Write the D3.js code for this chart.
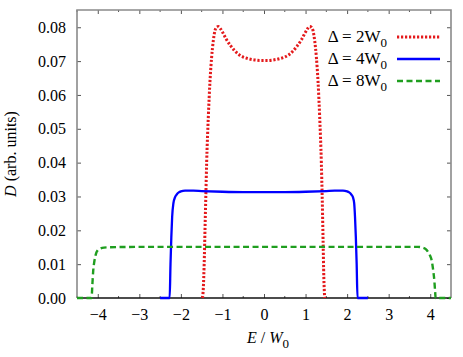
<!DOCTYPE html>
<html>
<head>
<meta charset="utf-8">
<script src="https://cdn.jsdelivr.net/npm/d3@7"></script>
<style>
  body { margin: 0; background: #fff; }
</style>
</head>
<body>
<div id="chart"></div>
<script>
var margin = {top: 10, right: 12, bottom: 59, left: 77},
    width = 463 - margin.left - margin.right,
    height = 357 - margin.top - margin.bottom;

// series
var labels = ["2", "4", "8"];
var colors = ["#e41a1c", "#0000ff", "#1f9e1f"];

var e2 = [-1.48, -1.46, -1.44, -1.42, -1.40, -1.38, -1.34, -1.30, -1.26, -1.22, -1.18, -1.14, -1.10, -1.05, -1.00, -0.90, -0.80, -0.70, -0.60, -0.50, -0.40, -0.30, -0.20, -0.10, 0.00,
          0.10, 0.20, 0.30, 0.40, 0.50, 0.60, 0.70, 0.80, 0.90, 1.00, 1.05, 1.10, 1.14, 1.18, 1.22, 1.26, 1.30, 1.34, 1.38, 1.40, 1.42, 1.44, 1.46];
var d2 = [0, 0.003, 0.010, 0.020, 0.030, 0.040, 0.0535, 0.064, 0.0712, 0.076, 0.079, 0.0800, 0.0802, 0.0796, 0.0786, 0.0763, 0.0745, 0.0730, 0.0719, 0.0712, 0.0708, 0.0705, 0.0703, 0.0702, 0.0702,
          0.0702, 0.0703, 0.0705, 0.0708, 0.0712, 0.0719, 0.0730, 0.0745, 0.0763, 0.0786, 0.0796, 0.0802, 0.0800, 0.079, 0.076, 0.0712, 0.064, 0.0535, 0.040, 0.030, 0.018, 0.006, 0];

var e4 = [-2.50, -2.27, -2.25, -2.23, -2.21, -2.18, -2.14, -2.10, -2.05, -2.00, -1.90, -1.70, -1.50, -1.00, -0.50, 0.00,
          0.50, 1.00, 1.50, 1.70, 1.90, 2.00, 2.05, 2.10, 2.14, 2.17, 2.19, 2.21, 2.23, 2.25, 2.50];
var d4 = [0, 0, 0.010, 0.018, 0.024, 0.028, 0.0298, 0.0306, 0.0312, 0.0315, 0.0317, 0.0317, 0.0316, 0.0314, 0.0313, 0.0313,
          0.0313, 0.0314, 0.0316, 0.0317, 0.0317, 0.0315, 0.0312, 0.0306, 0.0298, 0.028, 0.024, 0.018, 0.010, 0, 0];

var e8 = [-4.50, -4.15, -4.13, -4.11, -4.08, -4.04, -4.00, -3.94, -3.85, -3.70, -3.00, -2.00, -1.00, 0.00,
          1.00, 2.00, 3.00, 3.70, 3.82, 3.92, 3.99, 4.04, 4.07, 4.10, 4.12, 4.13, 4.50];
var d8 = [0, 0, 0.004, 0.008, 0.011, 0.0132, 0.0141, 0.0146, 0.0149, 0.0150, 0.0151, 0.0151, 0.0151, 0.0151,
          0.0151, 0.0151, 0.0151, 0.0151, 0.0149, 0.0141, 0.0127, 0.0108, 0.0083, 0.0050, 0.0015, 0, 0];

var xTicks = [-4, -3, -2, -1, 0, 1, 2, 3, 4];
var xMinor = [-4.5, -3.5, -2.5, -1.5, -0.5, 0.5, 1.5, 2.5, 3.5];
var yTicks = [0, 0.01, 0.02, 0.03, 0.04, 0.05, 0.06, 0.07, 0.08];

var series = [
  {E: e2, D: d2, dash: "2.2,1.8", w: 3},
  {E: e4, D: d4, dash: null, w: 2.3},
  {E: e8, D: d8, dash: "6,3.5", w: 2.4}
];

var svg = d3.select("#chart").append("svg")
    .attr("width", 463)
    .attr("height", 357)
    .attr("font-family", "Liberation Serif")
  .append("g")
    .attr("transform", "translate(" + margin.left + "," + margin.top + ")");

var x = d3.scaleLinear().domain([-4.5, 4.5]).range([0, width]);
var y = d3.scaleLinear().domain([0, 0.0851]).range([height, 0]);

// minor x ticks, top and bottom
svg.append("g").selectAll("line").data(xMinor).enter().append("line")
    .attr("x1", d => x(d)).attr("x2", d => x(d))
    .attr("y1", height).attr("y2", height - 2)
    .attr("stroke", "#555");
svg.append("g").selectAll("line").data(xMinor).enter().append("line")
    .attr("x1", d => x(d)).attr("x2", d => x(d))
    .attr("y1", 0).attr("y2", 2)
    .attr("stroke", "#555");

var xAxis = svg.append("g")
    .attr("transform", "translate(0," + height + ")")
    .call(d3.axisBottom(x).tickValues(xTicks).tickSizeInner(-4).tickSizeOuter(0).tickPadding(11));
var xTop = svg.append("g")
    .call(d3.axisTop(x).tickValues(xTicks).tickSizeInner(-4).tickSizeOuter(0).tickFormat(""));
var yAxis = svg.append("g")
    .call(d3.axisLeft(y).tickValues(yTicks).tickSizeInner(-4).tickSizeOuter(0).tickPadding(11).tickFormat(d3.format(".2f")));
var yRight = svg.append("g")
    .attr("transform", "translate(" + width + ",0)")
    .call(d3.axisRight(y).tickValues(yTicks).tickSizeInner(-4).tickSizeOuter(0).tickFormat(""));

[xAxis, xTop, yAxis, yRight].forEach(function(a) {
  a.attr("font-family", "Liberation Serif").attr("font-size", 16);
  a.select(".domain").remove();
  a.selectAll(".tick line").attr("stroke", "#555");
  a.selectAll("text").attr("fill", "#000");
});

// frame
svg.append("path")
    .attr("d", "M0," + height + "V0H" + width + "V" + height)
    .attr("fill", "none")
    .attr("stroke", "#8a8a8a")
    .attr("stroke-width", 1.6);

var line = d3.line()
    .curve(d3.curveMonotoneX)
    .x(d => x(d[0]))
    .y(d => y(d[1]));

svg.append("line")
    .attr("x1", 0).attr("x2", width)
    .attr("y1", height).attr("y2", height)
    .attr("stroke", "#111")
    .attr("stroke-width", 1.4);

series.forEach(function(s, i) {
  svg.append("path")
      .datum(d3.zip(s.E, s.D))
      .attr("fill", "none")
      .attr("stroke", colors[i])
      .attr("stroke-width", s.w)
      .attr("stroke-dasharray", s.dash)
      .attr("d", line);
});

// legend
var leg = svg.append("g");
series.forEach(function(s, i) {
  var ly = 27 + i * 22;
  var t = leg.append("text")
      .attr("x", 310)
      .attr("y", ly + 5)
      .attr("text-anchor", "end")
      .attr("font-size", 17);
  t.append("tspan").text("\u0394 = " + labels[i] + "W");
  t.append("tspan").attr("dy", 5).attr("font-size", 13).text("0");
  leg.append("line")
      .attr("x1", 320).attr("x2", 363)
      .attr("y1", ly).attr("y2", ly)
      .attr("stroke", colors[i])
      .attr("stroke-width", s.w)
      .attr("stroke-dasharray", s.dash);
});

// axis titles
var yl = svg.append("text")
    .attr("transform", "translate(" + (-61) + "," + (height / 2) + ") rotate(-90)")
    .attr("text-anchor", "middle")
    .attr("font-size", 16);
yl.append("tspan").attr("font-style", "italic").text("D");
yl.append("tspan").text(" (arb. units)");

var xl = svg.append("text")
    .attr("x", width / 2 + 4)
    .attr("y", height + 45)
    .attr("text-anchor", "middle")
    .attr("font-size", 16);
xl.append("tspan").attr("font-style", "italic").text("E");
xl.append("tspan").text(" / ");
xl.append("tspan").attr("font-style", "italic").text("W");
xl.append("tspan").attr("dy", 5).attr("font-size", 13).text("0");
</script>
</body>
</html>
